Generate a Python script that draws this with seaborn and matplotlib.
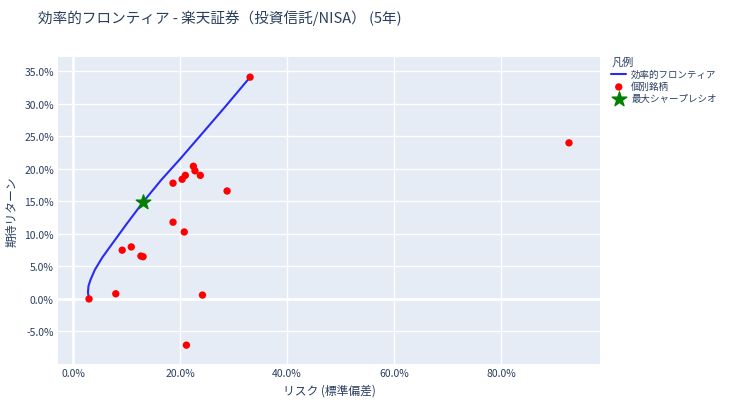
import numpy as np
import pandas as pd
import seaborn as sns
import matplotlib.pyplot as plt
from matplotlib.ticker import FuncFormatter

# Data (fractions)
frontier_risk = [0.030, 0.028, 0.029, 0.033, 0.041, 0.055, 0.069, 0.100, 0.131, 0.165, 0.200, 0.240, 0.285, 0.331]
frontier_ret = [0.000, 0.010, 0.020, 0.030, 0.045, 0.064, 0.080, 0.115, 0.149, 0.183, 0.215, 0.253, 0.296, 0.341]

asset_risk = [0.331, 0.927, 0.030, 0.080, 0.092, 0.109, 0.127, 0.131, 0.187, 0.187, 0.204, 0.210,
              0.208, 0.225, 0.228, 0.238, 0.288, 0.242, 0.212]
asset_ret = [0.341, 0.240, 0.000, 0.008, 0.075, 0.080, 0.066, 0.065, 0.178, 0.118, 0.184, 0.190,
             0.103, 0.204, 0.197, 0.190, 0.166, 0.006, -0.071]

max_sharpe_risk = [0.131]
max_sharpe_ret = [0.149]

sns.set_theme(style="darkgrid", rc={"axes.facecolor": "#E5ECF6", "grid.color": "white"})
plt.rcParams['font.family'] = ['Noto Sans CJK JP', 'DejaVu Sans']

fig = plt.figure(figsize=(7.3, 4.1), dpi=100)
ax = fig.add_axes([58 / 730, 1 - 365 / 410, 542 / 730, 307 / 410])

frontier = pd.DataFrame({"risk": frontier_risk, "ret": frontier_ret})
assets = pd.DataFrame({"risk": asset_risk, "ret": asset_ret})

sns.lineplot(data=frontier, x="risk", y="ret", ax=ax, color="#2A2AF5", lw=1.5,
             sort=False, estimator=None, label="効率的フロンティア")
sns.scatterplot(data=assets, x="risk", y="ret", ax=ax, color="red", s=28,
                edgecolor="none", label="個別銘柄", zorder=3)
ax.scatter(max_sharpe_risk, max_sharpe_ret, marker="*", s=120, color="green",
           label="最大シャープレシオ", zorder=4)

ax.set_xlim(-0.028, 0.985)
ax.set_ylim(-0.10, 0.372)
ax.set_xticks([0, 0.2, 0.4, 0.6, 0.8])
ax.set_yticks(np.arange(-0.05, 0.36, 0.05))
pct = FuncFormatter(lambda v, _: f"{v * 100:.1f}%")
ax.xaxis.set_major_formatter(pct)
ax.yaxis.set_major_formatter(pct)
ax.tick_params(labelsize=7.5, colors="#2a3f5f", length=0, pad=3)
for s in ax.spines.values():
    s.set_visible(False)
ax.axhline(0, color="white", lw=2, zorder=0.5)
ax.axvline(0, color="white", lw=2, zorder=0.5)

ax.set_xlabel("リスク (標準偏差)", fontsize=8.5, color="#2a3f5f")
ax.set_ylabel("期待リターン", fontsize=8.5, color="#2a3f5f")

fig.text(38 / 730, 1 - 18 / 410, "効率的フロンティア - 楽天証券（投資信託/NISA） (5年)",
         fontsize=10.5, color="#2a3f5f", va="center")

leg = ax.legend(title="凡例", loc="upper left", bbox_to_anchor=(1.005, 1.03),
                frameon=False, fontsize=6.8, title_fontsize=8, alignment="left",
                handlelength=1.6, handletextpad=0.5, labelspacing=0.3)
for t in leg.get_texts():
    t.set_color("#2a3f5f")
leg.get_title().set_color("#2a3f5f")

fig.savefig("out.png", dpi=100)
